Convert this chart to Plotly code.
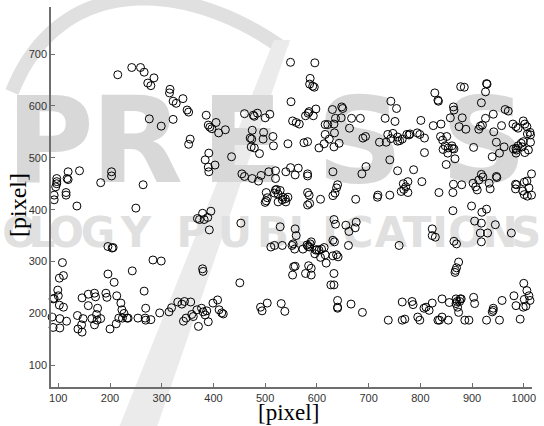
import plotly.graph_objects as go

# ---------------- data ----------------
x_arc = [215, 242, 259, 266, 273, 279, 285, 316, 315, 322, 328, 341, 349, 352, 276, 322, 299, 355, 352, 386,
         390, 393, 397, 405, 410, 423, 391, 384, 390, 391, 403, 435, 379, 395]
y_arc = [660, 674, 674, 665, 644, 639, 654, 632, 625, 609, 605, 614, 592, 588, 575, 574, 561, 536, 526, 582,
         563, 559, 556, 568, 548, 554, 509, 496, 482, 473, 486, 502, 393, 397]

x_left = [97, 97, 97, 95, 119, 117, 119, 141, 115, 115, 92, 92, 136, 182, 203, 203, 264, 250]
y_left = [460, 454, 450, 444, 473, 460, 458, 475, 433, 428, 428, 419, 407, 452, 473, 465, 448, 403]

x_mid = [460, 477, 479, 485, 500, 509, 475, 497, 471, 474, 496, 473, 479, 489, 455, 460, 475, 487, 492, 507,
         502, 504, 502, 500, 516]
y_mid = [585, 582, 580, 586, 577, 584, 553, 549, 538, 536, 536, 521, 519, 508, 469, 464, 460, 455, 466, 473,
         433, 423, 417, 414, 523]

x_center = [549, 596, 587, 586, 592, 595, 550, 553, 560, 566, 578, 583, 585, 593, 598, 630, 648, 650, 636, 647,
            667, 684, 616, 621, 633, 663, 616, 634, 624, 614, 604, 633, 643, 575, 582, 544, 515, 689, 694, 743,
            754, 732, 751, 721, 734, 743, 737, 747, 756, 760, 765, 756, 774, 778, 780, 794, 799, 808, 801, 808,
            741, 756, 787, 803, 695, 687, 631, 582, 582, 520, 520, 540, 549, 558, 564, 520, 525, 529, 534, 539,
            540, 533, 518, 522, 525, 544, 582, 585, 607, 582, 586, 631, 635, 638, 640, 675, 718, 717, 741, 763,
            768, 772, 776, 767, 776]
y_center = [684, 683, 653, 642, 638, 636, 608, 571, 568, 565, 581, 586, 589, 581, 594, 593, 598, 595, 576, 577,
            576, 576, 564, 564, 565, 557, 545, 548, 536, 527, 519, 521, 528, 529, 531, 527, 541, 538, 541, 609,
            595, 576, 570, 530, 530, 537, 545, 547, 540, 533, 536, 532, 545, 544, 546, 548, 545, 538, 572, 510,
            496, 475, 477, 454, 483, 469, 473, 469, 465, 475, 460, 473, 481, 467, 480, 438, 430, 437, 424, 421,
            415, 419, 432, 439, 415, 424, 433, 428, 420, 409, 412, 427, 432, 442, 448, 420, 428, 424, 428, 435,
            439, 444, 454, 450, 433]

x_right = [828, 834, 835, 864, 865, 858, 878, 885, 928, 929, 926, 918, 881, 888, 875, 913, 916, 920, 926, 941,
           942, 957, 964, 970, 825, 840, 979, 985, 999, 1002, 1006, 1012, 1013, 995, 999, 1013, 1002, 1009, 980, 985,
           986, 985, 997, 989, 1007, 989, 839, 851, 843, 848, 854, 861, 862, 865, 853, 867, 850, 844, 903, 947,
           962, 953, 939, 1015, 864, 880, 863, 836, 899, 863, 928, 919, 902, 907, 910, 913, 918, 921, 933, 935,
           947, 948, 984, 984, 998, 1010, 1001, 1007, 1015, 986, 1001, 1006]
y_right = [625, 611, 609, 598, 592, 577, 637, 636, 643, 642, 627, 606, 577, 555, 560, 555, 561, 563, 576, 584,
           550, 562, 593, 590, 562, 565, 565, 560, 571, 565, 560, 549, 544, 528, 531, 530, 510, 515, 517, 518,
           515, 509, 521, 523, 546, 557, 541, 541, 534, 523, 519, 523, 518, 517, 509, 498, 487, 516, 520, 530,
           521, 509, 502, 469, 449, 448, 433, 433, 407, 398, 401, 395, 451, 444, 438, 457, 468, 463, 451, 440,
           464, 462, 449, 440, 436, 442, 429, 426, 428, 448, 453, 455]

x_low_left = [85, 90, 100, 102, 110, 108, 110, 102, 88, 103, 116, 90, 103, 99, 92, 137, 148, 145, 138, 146,
              146, 158, 170, 172, 158, 165, 174, 176, 170, 182, 175, 192, 194, 196, 200, 208, 213, 221, 223, 227,
              233, 217, 212, 224, 235, 196, 206, 204, 243, 254, 266, 269, 268, 269, 279, 283, 299, 296, 314, 319,
              331, 339, 344, 356, 342, 347, 358, 361, 368, 371, 377, 380, 384, 387, 390, 399, 408, 411, 416, 419,
              379, 380, 451, 491, 494, 504, 373, 382, 389, 392, 369, 453, 511]
y_low_left = [315, 228, 234, 216, 212, 298, 273, 268, 193, 190, 185, 173, 172, 245, 229, 196, 190, 178, 170, 164,
              230, 237, 239, 232, 215, 190, 198, 210, 178, 190, 187, 239, 231, 276, 170, 260, 234, 220, 207, 200,
              191, 191, 180, 191, 191, 329, 327, 326, 282, 191, 243, 210, 191, 187, 188, 303, 301, 201, 203, 211,
              222, 218, 223, 222, 185, 191, 198, 194, 207, 175, 210, 203, 197, 205, 184, 220, 226, 207, 201, 199,
              286, 281, 259, 212, 205, 220, 381, 381, 385, 361, 383, 374, 328]

x_low_right = [529, 558, 560, 518, 533, 552, 554, 557, 573, 581, 583, 587, 589, 586, 596, 600, 604, 609, 614, 607,
               616, 618, 598, 633, 636, 631, 634, 656, 662, 674, 676, 661, 631, 638, 641, 633, 627, 633, 584, 589,
               578, 589, 555, 558, 553, 640, 640, 640, 666, 688, 531, 538, 759, 823, 823, 829, 905, 918, 916, 930,
               918, 945, 976, 865, 870, 874, 870, 868, 867, 738, 765, 765, 770, 784, 786, 795, 799, 807, 811, 817,
               823, 834, 837, 842, 842, 854, 856, 869, 869, 872, 874, 877, 876, 871, 879, 886, 894, 903, 905, 928,
               953, 958, 981, 985, 993, 1000, 1001, 1006, 1010, 1012, 1016, 999, 1004, 941, 941, 939]
y_low_right = [367, 363, 350, 331, 331, 331, 334, 324, 324, 332, 329, 334, 338, 328, 315, 323, 322, 324, 327, 308,
               313, 297, 322, 381, 372, 341, 338, 370, 358, 365, 376, 331, 311, 313, 309, 277, 255, 255, 292, 287,
               277, 274, 290, 291, 274, 225, 212, 210, 218, 202, 219, 204, 331, 363, 350, 347, 378, 374, 355, 355,
               338, 371, 355, 339, 334, 299, 288, 283, 279, 187, 222, 187, 189, 223, 217, 193, 187, 210, 212, 206,
               220, 187, 187, 228, 193, 187, 221, 228, 219, 212, 202, 228, 223, 223, 228, 187, 187, 231, 219, 187,
               187, 225, 234, 215, 189, 258, 227, 244, 234, 225, 222, 212, 214, 210, 206, 203]

x_ticks = [100, 200, 300, 400, 500, 600, 700, 800, 900, 1000]
y_ticks = [100, 200, 300, 400, 500, 600, 700]

xs = x_arc + x_left + x_mid + x_center + x_right + x_low_left + x_low_right
ys = y_arc + y_left + y_mid + y_center + y_right + y_low_left + y_low_right

# ---------------- figure ----------------
W, H = 544, 426
ML, MR, MT, MB = 51, 12, 7, 39
PW, PH = W - ML - MR, H - MT - MB


def paper(px, py):
    return (px - ML) / PW, (H - MB - py) / PH


def path(points, close=False):
    s = ""
    for i, (px, py) in enumerate(points):
        a, b = paper(px, py)
        s += ("M" if i == 0 else "L") + f" {a:.4f} {b:.4f} "
    return s + ("Z" if close else "")


shapes = []
# swoosh arc of the background logo
cx = [(12, 92), (60, -30), (190, -20), (285, 50)]
pts = []
for i in range(41):
    t = i / 40
    c = [(1 - t) ** 3, 3 * (1 - t) ** 2 * t, 3 * (1 - t) * t ** 2, t ** 3]
    pts.append((sum(c[k] * cx[k][0] for k in range(4)), sum(c[k] * cx[k][1] for k in range(4))))
shapes.append(dict(type="path", xref="paper", yref="paper", path=path(pts),
                   line=dict(color="#e0e0e0", width=14), layer="below"))
# diagonal stroke
shapes.append(dict(type="path", xref="paper", yref="paper",
                   path=path([(118, 430), (156, 430), (290, 40), (274, 40)], close=True),
                   fillcolor="#ebebeb", line=dict(width=0), layer="below"))


def letter(ch, cxp, cyp, size, color, hw, hh):
    x0, y0 = paper(cxp - hw, cyp + hh)
    x1, y1 = paper(cxp + hw, cyp - hh)
    shapes.append(dict(type="rect", xref="paper", yref="paper", x0=x0, y0=y0, x1=x1, y1=y1,
                       line=dict(width=0), fillcolor="rgba(0,0,0,0)", layer="below",
                       label=dict(text=ch, textposition="middle center",
                                  font=dict(family="DejaVu Sans", size=size, color=color, weight="bold"))))


for ch, c in zip("PRESS", [50, 137, 242, 360, 484]):
    letter(ch, c, 131, 120, "#d8d8d8", 48, 48)
for ch, c in zip("OLOGY", [20, 42, 66, 98, 136]):
    letter(ch, c, 229, 42, "#e0e0e0", 16, 18)
for ch, c in zip("PUBLICATIONS", [192, 235, 273, 302, 330, 358, 391, 417, 440, 466, 500, 526]):
    letter(ch, c, 229, 42, "#e0e0e0", 16, 18)

fig = go.Figure()
fig.add_trace(go.Scatter(
    x=xs, y=ys, mode="markers", cliponaxis=False,
    marker=dict(symbol="circle-open", size=8, color="black", line=dict(width=1, color="black")),
    showlegend=False, hoverinfo="skip"))

x_lo = 85.9
x_hi = 1015.9
y_lo = 58.2
y_hi = 790.6

axis_common = dict(showgrid=False, zeroline=False, showline=True, linecolor="#6e6e6e", linewidth=1.5,
                   ticks="inside", ticklen=4, tickwidth=1, tickcolor="#6e6e6e",
                   tickfont=dict(family="Liberation Sans, Arial, sans-serif", size=11, color="#333333"),
                   mirror=False)

fig.update_layout(
    width=W, height=H, autosize=False,
    margin=dict(l=ML, r=MR, t=MT, b=MB, pad=0),
    paper_bgcolor="white", plot_bgcolor="rgba(0,0,0,0)",
    xaxis=dict(range=[x_lo, x_hi], tickvals=x_ticks, ticktext=[str(v) for v in x_ticks], **axis_common),
    yaxis=dict(range=[y_lo, y_hi], tickvals=y_ticks, ticktext=[str(v) for v in y_ticks], **axis_common),
    shapes=shapes,
    annotations=[
        dict(text="[pixel]", xref="paper", yref="paper", x=(288 - ML) / PW, y=(H - MB - 412) / PH,
             showarrow=False, font=dict(family="Liberation Serif, Times New Roman, serif", size=23, color="black"),
             xanchor="center", yanchor="middle"),
        dict(text="[pixel]", xref="paper", yref="paper", x=(18 - ML) / PW, y=(H - MB - 205) / PH,
             showarrow=False, textangle=-90,
             font=dict(family="Liberation Serif, Times New Roman, serif", size=24, color="black"),
             xanchor="center", yanchor="middle"),
    ],
)

fig.write_html("out.html")
